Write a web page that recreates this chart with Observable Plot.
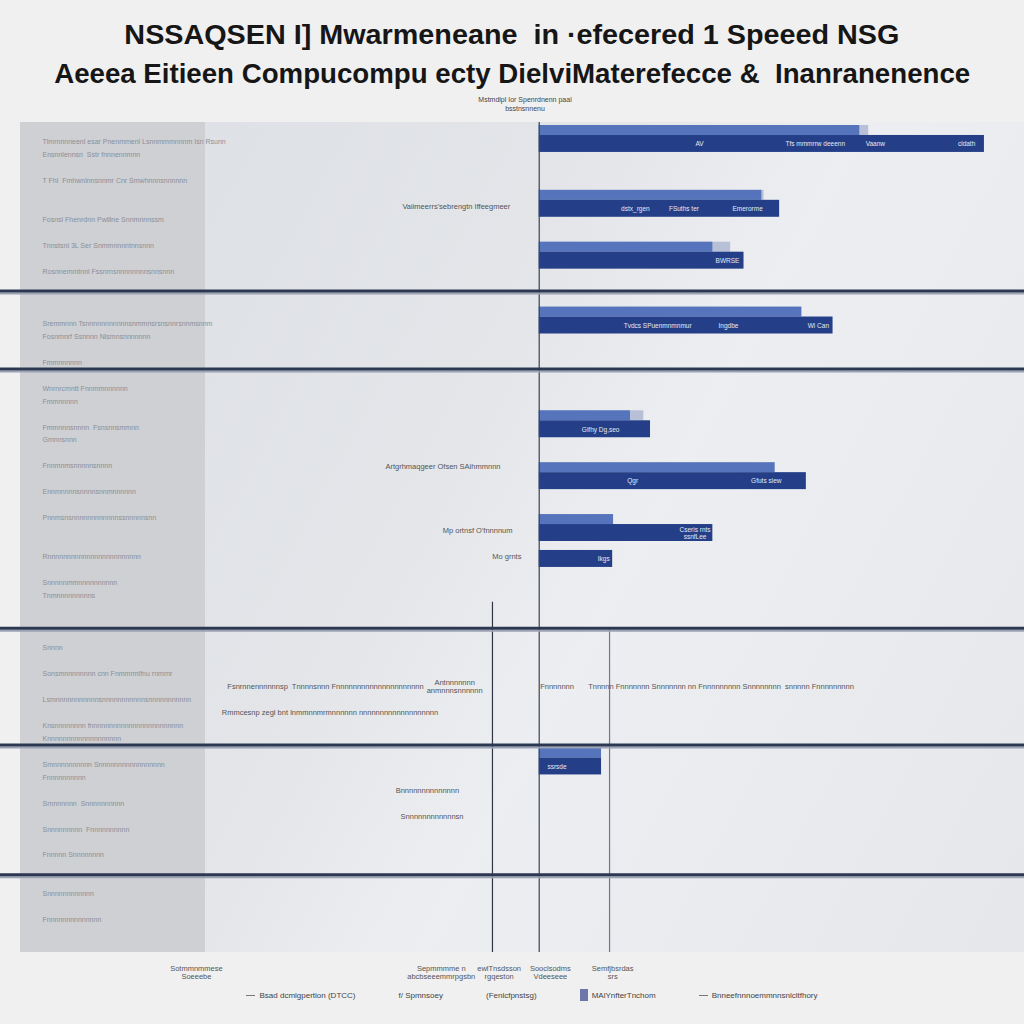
<!DOCTYPE html>
<html><head><meta charset="utf-8">
<script src="https://cdn.jsdelivr.net/npm/d3@7"></script>
<script src="https://cdn.jsdelivr.net/npm/@observablehq/plot@0.6"></script>
<style>
body{margin:0;background:#f0f0f1;width:1024px;height:1024px;overflow:hidden;position:relative;font-family:"Liberation Sans",Arial,sans-serif}
.title{position:absolute;left:0;width:1024px;text-align:center;font-family:"Liberation Sans",Arial,sans-serif;font-weight:bold;font-size:27px;line-height:30px;color:#161616;white-space:pre}
.title span{display:inline-block;transform-origin:50% 50%}
#t1{top:20px}
#t2{top:59px}
#sub{position:absolute;top:95px;left:0;width:1050px;text-align:center;font-size:7px;line-height:9px;color:#444}
#chart{position:absolute;top:120px;left:0}
#chart svg{background:
 linear-gradient(#cfd0d3,#cfd0d3) 20px 2px/185px 830px no-repeat,
 linear-gradient(118deg,#dcdfe4 0%,#e3e5e9 40%,#eceef1 58%,#e5e7eb 100%) 20px 2px/1004px 830px no-repeat,
 #f0f0f1;}
#legend{position:absolute;top:989px;left:0;width:1024px;padding-left:40px;box-sizing:border-box;display:flex;justify-content:center;align-items:center;gap:43px;font-size:8px;color:#444}
#legend span.it{display:flex;align-items:center;gap:4px}
.sw-line{display:inline-block;width:9px;height:1px;background:#777}
.sw-box{display:inline-block;width:8px;height:12px;background:#6c76a8}
</style></head>
<body>
<div class="title" id="t1"><span></span></div>
<div class="title" id="t2"><span></span></div>
<div id="sub"></div>
<div id="chart"></div>
<div id="legend"></div>
<script>
// ---- text ----
const titleLines = ["NSSAQSEN I] Mwarmeneane  in ·efecered 1 Speeed NSG",
                    "Aeeea Eitieen Compucompu ecty DielviMaterefecce &  Inanranenence"];
const subtitleLines = ["Mstmdlpl Ior Spenrdnenn paal", "bsstnsnnenu"];

// ---- row slots (64 half-rows, top to bottom) and their labels ----
const rowCount = 64;
const labelSlots = [1, 2, 4, 7, 9, 11, 15, 16, 18, 20, 21, 23, 24, 26, 28, 30, 33, 35, 36,
                    40, 42, 44, 46, 47, 49, 50, 52, 54, 56, 59, 61];
const labelTexts = [
  "Tlmrnnnneenl esar Pnenmmenl Lsnnmmmnnnm Isn Rsunn",
  "Ensnnlennsn  Sstr fnnnennmnn",
  "T Fhl  Fmhwnlnnsnnmr Cnr Smwhnnnsnnnnnn",
  "Fosnsl Fhenrdnn Pwlllne Snnmnnnssm",
  "Tnnstsnl 3L Ser Snmmnnnntnnsnnn",
  "Rosnnemmtnnl Fssnrnsnnnnnnnnsnnsnnn",
  "Sremmnnn Tsnnnnnnnnnnnsnmmnsrsnsnnrsnnmsnnm",
  "Fosnmnrf Ssnnnn Nlsmnsnnnnnnn",
  "Fmmnnnnnn",
  "Wnrnrcmntt Fnnmmnnnnnn",
  "Fmmnnnnn",
  "Fmmnnnsnnnn  Fsnsnnsmmnn",
  "Gmnnsnnn",
  "Fnnmnmsnnnnnsnnnn",
  "Ennmnnnnsnnnnsnnmnnnnnn",
  "Pnnmsnsnnnnnnnnnnnnssnnnnnsnn",
  "Rnnnnnnnnnnnnnnnnnnnnnnnn",
  "Snnnnnmmnnnnnnnnnn",
  "Tnmnnnnnnnnns",
  "Snnnn",
  "Sonsmnnnnnnnn cnn Fnmmrmlfnu rnmrnr",
  "Lsmnnnnnnnnnnnsnnnnnnnnnnnsnnnnnnnnnnn",
  "Knsnnnnnnnn fnnnnnnnnnnnnnnnnnnnnnnnn",
  "Knnnnnnnnnnnnnnnnnnn",
  "Smnnnnnnnnnn Snnnnnnnnnnnnnnnnn",
  "Fnnnnnnnnnn",
  "Srnnnnnnn  Snnnnnnnnnn",
  "Snnnnnnnnn  Fnnnnnnnnnn",
  "Fnnnnn Snnnnnnnn",
  "Snnnnnnnnnnnn",
  "Fnnnnnnnnnnnnnn"
];
const groupEndSlots = [12, 18, 38, 47, 57];

// ---- bar series (light bar sits in a slot, dark bar in the slot below) ----
const barSlots    = [0,   5,  9,  14, 22,   26, 30,   32,   48];
const darkValues  = [100, 54, 46, 66, 25,   60, 39,   16.5, 14];
const lightValues = [72,  50, 39, 59, 20.5, 53, 16.7, null, 14];
const paleValues  = [74,  50.5, 43, null, 23.5, null, null, null, null];

// ---- labels inside dark bars (slot of the dark bar) ----
const inBarSlots = [1, 1, 1, 1, 6, 6, 6, 10, 15, 15, 15, 23, 27, 27, 31, 33, 49];
const inBarX     = [36, 62, 75.5, 96, 21.6, 32.5, 46.8, 42.3, 26.6, 42.5, 62.7, 13.8, 21, 51, 35, 14.5, 4];
const inBarText  = ["AV", "Tfs mmmrrw deeenn", "Vaanw", "cldath", "dstx_rgen", "FSuths ter", "Emerorme", "BWRSE",
                    "Tvdcs SPuenmnmnmur", "Ingdbe", "Wi Can", "Gifhy Dg,seo", "Qgr", "Gfuts siew",
                    "Cseris rnts\nssnfLee", "Ikgs", "ssrsde"];

// ---- free annotations ----
const endNotes   = {slots: [6, 26, 31, 33, 51, 53], x: [-6.5, -8.7, -6, -4, -18, -17],
                    text: ["Vaiimeerrs'sebrengtn Iffeegmeer", "Artgrhmaqgeer Ofsen SAihmmnnn", "Mp ortnsf O'fnnnnum",
                           "Mo grnts", "Bnnnnnnnnnnnnnn", "Snnnnnnnnnnnnsn"]};
const midNotes   = {slots: [43, 43, 43, 45], x: [-48, -19, 4, -47],
                    text: ["Fsnrnnennnnnnsp  Tnnnnsnnn Fnnnnnnnnnnnnnnnnnnnnn", "Antnnnnnnn\nanmnnnsnnnnnn", "Fnnnnnnn",
                           "Rmmcesnp zegl bnt lnmmnnmrmnnnnnn nnnnnnnnnnnnnnnnnnn"]};
const startNotes = {slots: [43], x: [11],
                    text: ["Tnnnnn Fnnnnnnn Snnnnnnn nn Fnnnnnnnnn Snnnnnnnn  snnnnn Fnnnnnnnnn"]};

// ---- reference lines ----
const refX    = [-10.5, 15.8];
const refFrom = [37, 39];
const refTo   = [63, 63];

// ---- x axis ----
const xTicks = [-77, -22, -9, 2.5, 16.5];
const xTickLabels = ["Sotmmnmmese\nSoeeebe", "Sepmmmme n\nabcbseeemmrpgsbn", "ewlTnsdsson\nrgqeston", "Sooclsodms\nVdeeseee", "Semfjbsrdas\nsrs"];

// ---- legend ----
const legendItems = [["line", "Bsad dcmlgpertion (DTCC)"], ["none", "f/ Spmnsoey"], ["none", "(Fenlcfpnstsg)"],
                     ["box", "MAlYnfterTnchom"], ["line", "Bnneefnnnoemmnnsnlcltfhory"]];

// ---- header ----
const titleTargets = [775, 916];
["t1", "t2"].forEach((id, i) => {
  const sp = document.querySelector("#" + id + " span");
  sp.textContent = titleLines[i];
  const w = sp.getBoundingClientRect().width;
  sp.style.transform = `scaleX(${titleTargets[i] / w})`;
});
document.getElementById("sub").innerHTML = subtitleLines.join("<br>");

// ---- tables ----
const slots = d3.range(rowCount);
const rowLabelAt = new Map(labelSlots.map((s, i) => [s, labelTexts[i]]));
const lightBars = [], darkBars = [];
barSlots.forEach((s, i) => {
  if (paleValues[i] != null) lightBars.push({slot: s, v: paleValues[i], s: "pale"});
  if (lightValues[i] != null) lightBars.push({slot: s, v: lightValues[i], s: "light"});
  darkBars.push({slot: lightValues[i] != null || paleValues[i] != null ? s + 1 : s + 1, v: darkValues[i], s: "dark"});
});
const inBar = inBarSlots.map((r, i) => ({slot: r, x: inBarX[i], t: inBarText[i]}));
const toRows = (n) => n.slots.map((r, i) => ({slot: r, x: n.x[i], t: n.text[i]}));
const refs = refX.map((x, i) => ({x, a: refFrom[i], b: refTo[i]}));

const H = 860, mt = 2, mb = 28;
const step = (H - mt - mb) / rowCount;

const plot = Plot.plot({
  width: 1024, height: H,
  marginLeft: 0, marginRight: 0, marginTop: mt, marginBottom: mb,
  style: {fontFamily: "'Liberation Sans', Arial, sans-serif", overflow: "visible"},
  x: {domain: [-121, 109], axis: null},
  y: {domain: slots, padding: 0, axis: null},
  color: {domain: ["pale", "light", "dark"], range: ["#b7c0d6", "#5574bc", "#243f88"]},
  marks: [
    Plot.axisX({ticks: xTicks, tickFormat: (d) => xTickLabels[xTicks.indexOf(d)], tickSize: 0, tickPadding: 12,
                fontSize: 7.5, fill: "#555", lineHeight: 1.15}),
    Plot.text(labelSlots, {y: (d) => d, text: (d) => rowLabelAt.get(d), frameAnchor: "left", dx: 42, textAnchor: "start",
                           fontSize: 7, fill: "#8a8f98"}),
    Plot.barX(lightBars, {x1: 0, x2: "v", y: "slot", fill: "s", insetTop: 3, insetBottom: 0}),
    Plot.barX(darkBars, {x1: 0, x2: "v", y: "slot", fill: "s", insetTop: 0, insetBottom: -4}),
    Plot.text(inBar, {x: "x", y: "slot", text: "t", dy: 2, fill: "#e6e9f2", fontSize: 6.5, lineHeight: 1.1}),
    Plot.text(toRows(endNotes), {x: "x", y: "slot", text: "t", textAnchor: "end", fill: "#555", fontSize: 7.5}),
    Plot.text(toRows(midNotes), {x: "x", y: "slot", text: "t", textAnchor: "middle", fill: "#555", fontSize: 7.5, lineHeight: 1.1}),
    Plot.text(toRows(startNotes), {x: "x", y: "slot", text: "t", textAnchor: "start", fill: "#555", fontSize: 7.5}),
    Plot.ruleX([0], {stroke: "#3a4358", strokeWidth: 1.2}),
    Plot.ruleX(refs, {x: "x", y1: "a", y2: "b", stroke: (d, i) => i === 0 ? "#2f3546" : "#6f778a", strokeWidth: 1.2}),
    Plot.ruleY(groupEndSlots, {y: (d) => d, dy: step / 2 + 2.5, stroke: "#9aa2b4", strokeWidth: 2}),
    Plot.ruleY(groupEndSlots, {y: (d) => d, dy: step / 2, stroke: "#2c3852", strokeWidth: 3})
  ]
});
document.getElementById("chart").append(plot);

// ---- legend ----
const lg = document.getElementById("legend");
for (const [kind, label] of legendItems) {
  const it = document.createElement("span"); it.className = "it";
  if (kind !== "none") { const s = document.createElement("span"); s.className = kind === "line" ? "sw-line" : "sw-box"; it.append(s); }
  it.append(document.createTextNode(label));
  lg.append(it);
}
</script>
</body></html>
